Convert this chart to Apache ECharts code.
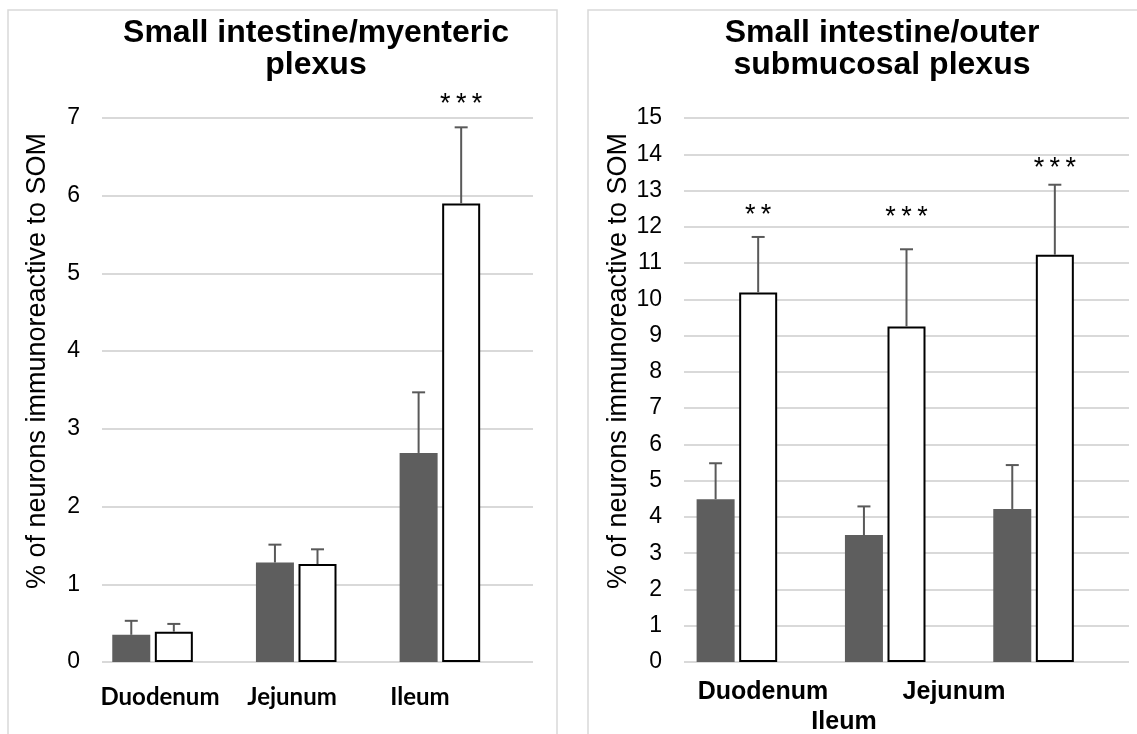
<!DOCTYPE html>
<html>
<head>
<meta charset="utf-8">
<script src="https://cdn.jsdelivr.net/npm/echarts@6/dist/echarts.min.js"></script>
<style>
html,body{margin:0;padding:0;background:#fff;}
#chart{width:1137px;height:734px;}
</style>
</head>
<body>
<div id="chart"></div>
<script>
// ---- data ----
const categories = ['Duodenum', 'Jejunum', 'Ileum'];

// Small intestine / myenteric plexus
const myentericDark = [0.35, 1.28, 2.69];
const myentericDarkErr = [0.18, 0.23, 0.78];
const myentericWhite = [0.39, 1.26, 5.90];
const myentericWhiteErr = [0.10, 0.19, 0.98];
const myentericSig = ['', '', '***'];
const myentericSigAt = [null, null, 7.25];
const myentericTicks = [0, 1, 2, 3, 4, 5, 6, 7];

// Small intestine / outer submucosal plexus
const submucDark = [4.49, 3.50, 4.22];
const submucDarkErr = [0.99, 0.79, 1.21];
const submucWhite = [10.19, 9.25, 11.23];
const submucWhiteErr = [1.53, 2.13, 1.93];
const submucSig = ['**', '***', '***'];
const submucSigAt = [12.47, 12.42, 13.77];
const submucTicks = [0, 1, 2, 3, 4, 5, 6, 7, 8, 9, 10, 11, 12, 13, 14, 15];

const titles = ['Small intestine/myenteric\nplexus', 'Small intestine/outer\nsubmucosal plexus'];
const yTitle = '% of neurons immunoreactive to SOM';

// ---- styles ----
const DARK = '#5e5e5e';
const ERR = '#595959';
const GRID = '#d9d9d9';
const BAR_W = 38;
const GAP = 0.12;
const FONT = '"Liberation Sans", Arial, sans-serif';

const chart = echarts.init(document.getElementById('chart'), null, {renderer: 'canvas'});

function errSeries(gridIdx, slot, means, errs) {
  return {
    type: 'custom',
    xAxisIndex: gridIdx, yAxisIndex: gridIdx,
    z: 5,
    data: means.map((m, i) => [i, m, errs[i]]),
    renderItem: function (params, api) {
      const i = api.value(0), v = api.value(1), e = api.value(2);
      const base = api.coord([i, v]);
      const top = api.coord([i, v + e]);
      const x = base[0] + slot * BAR_W * (1 + GAP);
      return {
        type: 'group',
        children: [
          {type: 'line', shape: {x1: x, y1: base[1], x2: x, y2: top[1]}, style: {stroke: ERR, lineWidth: 2}},
          {type: 'line', shape: {x1: x - 6.5, y1: top[1], x2: x + 6.5, y2: top[1]}, style: {stroke: ERR, lineWidth: 2}}
        ]
      };
    }
  };
}

function sigSeries(gridIdx, slot, sig, at) {
  return {
    type: 'custom',
    xAxisIndex: gridIdx, yAxisIndex: gridIdx,
    z: 6,
    data: at.map((a, i) => [i, a == null ? 0 : a]),
    renderItem: function (params, api) {
      const i = params.dataIndex;
      if (!sig[i]) return null;
      const p = api.coord([api.value(0), api.value(1)]);
      const x = p[0] + slot * BAR_W * (1 + GAP);
      return {
        type: 'text',
        style: {
          x: x, y: p[1] + 6,
          text: sig[i].split('').join('\u2009'),
          fill: '#000',
          font: '27px ' + FONT,
          align: 'center', verticalAlign: 'middle'
        }
      };
    }
  };
}

function barSeries(gridIdx, data, white) {
  return {
    type: 'bar',
    xAxisIndex: gridIdx, yAxisIndex: gridIdx,
    data: data,
    barWidth: BAR_W,
    barGap: (GAP * 100) + '%',
    itemStyle: white ? {color: '#ffffff', borderColor: '#000000', borderWidth: 2} : {color: DARK},
    silent: true
  };
}

function spacerSeries(gridIdx) {
  return {
    type: 'bar', xAxisIndex: gridIdx, yAxisIndex: gridIdx,
    data: categories.map(() => null), barWidth: BAR_W, barGap: (GAP * 100) + '%', silent: true
  };
}

const leftLabelX = [160, 292, 420];
const rightLabels = [
  {text: categories[0], x: 763, y: 692},
  {text: categories[1], x: 954, y: 692},
  {text: categories[2], x: 844, y: 722}
];

const graphics = [
  {type: 'rect', shape: {x: 8, y: 10, width: 549, height: 740}, style: {fill: 'none', stroke: GRID, lineWidth: 1.5}, z: 0},
  {type: 'rect', shape: {x: 588, y: 10, width: 560, height: 740}, style: {fill: 'none', stroke: GRID, lineWidth: 1.5}, z: 0},
  {type: 'text', x: 316, y: 17, style: {text: titles[0], font: 'bold 32px ' + FONT, lineHeight: 32, fill: '#000', align: 'center', verticalAlign: 'top'}},
  {type: 'text', x: 882, y: 17, style: {text: titles[1], font: 'bold 32px ' + FONT, lineHeight: 32, fill: '#000', align: 'center', verticalAlign: 'top'}},
  {type: 'text', x: 38, y: 361, rotation: Math.PI / 2, style: {text: yTitle, font: '27px ' + FONT, fill: '#000', align: 'center', verticalAlign: 'middle'}},
  {type: 'text', x: 619, y: 361, rotation: Math.PI / 2, style: {text: yTitle, font: '27px ' + FONT, fill: '#000', align: 'center', verticalAlign: 'middle'}}
];
categories.forEach((c, i) => {
  graphics.push({type: 'text', x: leftLabelX[i], y: 697, style: {text: c, font: 'bold 24px Lato, "Open Sans", sans-serif', fill: '#000', align: 'center', verticalAlign: 'middle'}});
});
rightLabels.forEach(l => {
  graphics.push({type: 'text', x: l.x, y: l.y, style: {text: l.text, font: 'bold 25px ' + FONT, fill: '#000', align: 'center', verticalAlign: 'middle'}});
});

function yAxis(gridIdx, ticks) {
  return {
    type: 'value', gridIndex: gridIdx,
    min: ticks[0], max: ticks[ticks.length - 1], interval: 1,
    axisLine: {show: false}, axisTick: {show: false},
    axisLabel: {fontSize: 23, color: '#000', fontFamily: FONT, margin: 22},
    splitLine: {lineStyle: {color: GRID, width: 2}}
  };
}
function xAxis(gridIdx) {
  return {
    type: 'category', gridIndex: gridIdx, data: categories,
    axisLine: {show: false}, axisTick: {show: false}, axisLabel: {show: false}
  };
}

chart.setOption({
  backgroundColor: '#ffffff',
  animation: false,
  grid: [
    {left: 102, top: 118, width: 431, height: 544},
    {left: 684, top: 118, width: 445, height: 544}
  ],
  xAxis: [xAxis(0), xAxis(1)],
  yAxis: [yAxis(0, myentericTicks), yAxis(1, submucTicks)],
  graphic: graphics,
  series: [
    barSeries(0, myentericDark, false),
    barSeries(0, myentericWhite, true),
    spacerSeries(0),
    errSeries(0, -1, myentericDark, myentericDarkErr),
    errSeries(0, 0, myentericWhite, myentericWhiteErr),
    sigSeries(0, 0, myentericSig, myentericSigAt),
    barSeries(1, submucDark, false),
    barSeries(1, submucWhite, true),
    spacerSeries(1),
    errSeries(1, -1, submucDark, submucDarkErr),
    errSeries(1, 0, submucWhite, submucWhiteErr),
    sigSeries(1, 0, submucSig, submucSigAt)
  ]
});
</script>
</body>
</html>
